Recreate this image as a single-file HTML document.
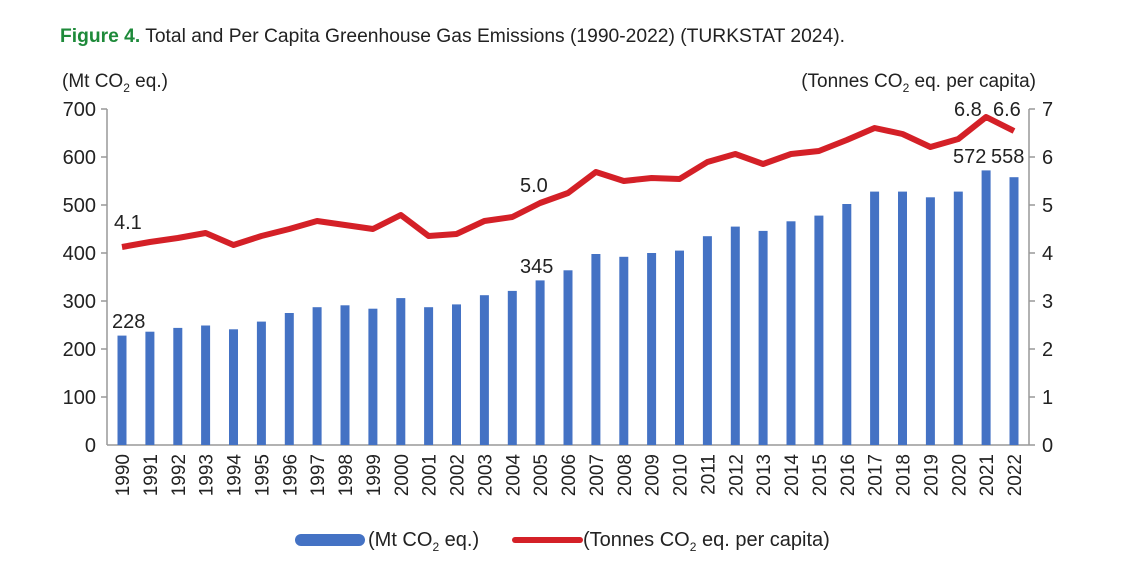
<!DOCTYPE html>
<html><head><meta charset="utf-8"><style>
body{margin:0;background:#fff;width:1128px;height:583px;overflow:hidden}
svg{display:block;font-family:"Liberation Sans",sans-serif}
</style></head><body>
<svg width="1128" height="583" viewBox="0 0 1128 583">
<text x="60" y="42" font-size="19" fill="#222" textLength="785" lengthAdjust="spacingAndGlyphs"><tspan fill="#1e8a3a" font-weight="bold">Figure 4.</tspan> Total and Per Capita Greenhouse Gas Emissions (1990-2022) (TURKSTAT 2024).</text>
<text x="62" y="87" font-size="19" fill="#222">(Mt CO<tspan font-size="12" dy="5">2</tspan><tspan dy="-5"> eq.)</tspan></text>
<text x="1036" y="87" font-size="19" fill="#222" text-anchor="end">(Tonnes CO<tspan font-size="12" dy="5">2</tspan><tspan dy="-5"> eq. per capita)</tspan></text>
<g stroke="#999" stroke-width="1.5">
<line x1="107" y1="109" x2="107" y2="445"/><line x1="1029" y1="109" x2="1029" y2="445"/>
<line x1="107" y1="445" x2="1029" y2="445"/>
<line x1="101" y1="109" x2="107" y2="109"/><line x1="101" y1="157" x2="107" y2="157"/><line x1="101" y1="205" x2="107" y2="205"/><line x1="101" y1="253" x2="107" y2="253"/><line x1="101" y1="301" x2="107" y2="301"/><line x1="101" y1="349" x2="107" y2="349"/><line x1="101" y1="397" x2="107" y2="397"/>
<line x1="1029" y1="109" x2="1035" y2="109"/><line x1="1029" y1="157" x2="1035" y2="157"/><line x1="1029" y1="205" x2="1035" y2="205"/><line x1="1029" y1="253" x2="1035" y2="253"/><line x1="1029" y1="301" x2="1035" y2="301"/><line x1="1029" y1="349" x2="1035" y2="349"/><line x1="1029" y1="397" x2="1035" y2="397"/><line x1="1029" y1="445" x2="1035" y2="445"/>
</g>
<g font-size="20" fill="#222" text-anchor="end">
<text x="96" y="116">700</text><text x="96" y="164">600</text><text x="96" y="212">500</text><text x="96" y="260">400</text><text x="96" y="308">300</text><text x="96" y="356">200</text><text x="96" y="404">100</text><text x="96" y="452">0</text>
</g>
<g font-size="20" fill="#222">
<text x="1042" y="116">7</text><text x="1042" y="164">6</text><text x="1042" y="212">5</text><text x="1042" y="260">4</text><text x="1042" y="308">3</text><text x="1042" y="356">2</text><text x="1042" y="404">1</text><text x="1042" y="452">0</text>
</g>
<g fill="#4472c4">
<rect x="117.5" y="335.6" width="9" height="109.4"/>
<rect x="145.4" y="331.7" width="9" height="113.3"/>
<rect x="173.3" y="327.9" width="9" height="117.1"/>
<rect x="201.1" y="325.5" width="9" height="119.5"/>
<rect x="229" y="329.3" width="9" height="115.7"/>
<rect x="256.9" y="321.6" width="9" height="123.4"/>
<rect x="284.8" y="313" width="9" height="132"/>
<rect x="312.6" y="307.2" width="9" height="137.8"/>
<rect x="340.5" y="305.3" width="9" height="139.7"/>
<rect x="368.4" y="308.7" width="9" height="136.3"/>
<rect x="396.3" y="298.1" width="9" height="146.9"/>
<rect x="424.1" y="307.2" width="9" height="137.8"/>
<rect x="452" y="304.4" width="9" height="140.6"/>
<rect x="479.9" y="295.2" width="9" height="149.8"/>
<rect x="507.8" y="290.9" width="9" height="154.1"/>
<rect x="535.6" y="280.4" width="9" height="164.6"/>
<rect x="563.5" y="270.3" width="9" height="174.7"/>
<rect x="591.4" y="254" width="9" height="191"/>
<rect x="619.3" y="256.8" width="9" height="188.2"/>
<rect x="647.1" y="253" width="9" height="192"/>
<rect x="675" y="250.6" width="9" height="194.4"/>
<rect x="702.9" y="236.2" width="9" height="208.8"/>
<rect x="730.8" y="226.6" width="9" height="218.4"/>
<rect x="758.6" y="230.9" width="9" height="214.1"/>
<rect x="786.5" y="221.3" width="9" height="223.7"/>
<rect x="814.4" y="215.6" width="9" height="229.4"/>
<rect x="842.3" y="204" width="9" height="241"/>
<rect x="870.1" y="191.6" width="9" height="253.4"/>
<rect x="898" y="191.6" width="9" height="253.4"/>
<rect x="925.9" y="197.3" width="9" height="247.7"/>
<rect x="953.8" y="191.6" width="9" height="253.4"/>
<rect x="981.6" y="170.4" width="9" height="274.6"/>
<rect x="1009.5" y="177.2" width="9" height="267.8"/>
</g>
<polyline fill="none" stroke="#d42027" stroke-width="6" stroke-linejoin="round" points="122,247 149.9,242 177.8,238 205.6,233 233.5,245 261.4,236 289.3,229 317.1,221 345,225 372.9,229 400.8,215 428.6,236 456.5,234 484.4,221 512.3,217 540.1,203 568,193 595.9,172 623.8,181 651.6,178 679.5,179 707.4,162 735.3,154 763.1,164 791,154 818.9,151 846.8,140 874.6,128 902.5,134 930.4,147 958.3,139 986.1,117 1014,131"/>
<g font-size="20" fill="#222">
<text x="114" y="229">4.1</text>
<text x="112" y="328">228</text>
<text x="520" y="192">5.0</text>
<text x="520" y="273">345</text>
<text x="954" y="116">6.8</text>
<text x="993" y="116">6.6</text>
<text x="953" y="163">572</text>
<text x="991" y="163">558</text>
</g>
<g font-size="19" fill="#222" text-anchor="end">
<text transform="translate(129,454) rotate(-90)">1990</text>
<text transform="translate(156.9,454) rotate(-90)">1991</text>
<text transform="translate(184.8,454) rotate(-90)">1992</text>
<text transform="translate(212.6,454) rotate(-90)">1993</text>
<text transform="translate(240.5,454) rotate(-90)">1994</text>
<text transform="translate(268.4,454) rotate(-90)">1995</text>
<text transform="translate(296.3,454) rotate(-90)">1996</text>
<text transform="translate(324.1,454) rotate(-90)">1997</text>
<text transform="translate(352,454) rotate(-90)">1998</text>
<text transform="translate(379.9,454) rotate(-90)">1999</text>
<text transform="translate(407.8,454) rotate(-90)">2000</text>
<text transform="translate(435.6,454) rotate(-90)">2001</text>
<text transform="translate(463.5,454) rotate(-90)">2002</text>
<text transform="translate(491.4,454) rotate(-90)">2003</text>
<text transform="translate(519.3,454) rotate(-90)">2004</text>
<text transform="translate(547.1,454) rotate(-90)">2005</text>
<text transform="translate(575,454) rotate(-90)">2006</text>
<text transform="translate(602.9,454) rotate(-90)">2007</text>
<text transform="translate(630.8,454) rotate(-90)">2008</text>
<text transform="translate(658.6,454) rotate(-90)">2009</text>
<text transform="translate(686.5,454) rotate(-90)">2010</text>
<text transform="translate(714.4,454) rotate(-90)">2011</text>
<text transform="translate(742.3,454) rotate(-90)">2012</text>
<text transform="translate(770.1,454) rotate(-90)">2013</text>
<text transform="translate(798,454) rotate(-90)">2014</text>
<text transform="translate(825.9,454) rotate(-90)">2015</text>
<text transform="translate(853.8,454) rotate(-90)">2016</text>
<text transform="translate(881.6,454) rotate(-90)">2017</text>
<text transform="translate(909.5,454) rotate(-90)">2018</text>
<text transform="translate(937.4,454) rotate(-90)">2019</text>
<text transform="translate(965.3,454) rotate(-90)">2020</text>
<text transform="translate(993.1,454) rotate(-90)">2021</text>
<text transform="translate(1021,454) rotate(-90)">2022</text>
</g>
<rect x="295" y="534" width="70" height="12" rx="6" fill="#4472c4"/>
<text x="368" y="546" font-size="20" fill="#222">(Mt CO<tspan font-size="12" dy="5">2</tspan><tspan dy="-5"> eq.)</tspan></text>
<line x1="515" y1="540" x2="580" y2="540" stroke="#d42027" stroke-width="6" stroke-linecap="round"/>
<text x="583" y="546" font-size="20" fill="#222">(Tonnes CO<tspan font-size="12" dy="5">2</tspan><tspan dy="-5"> eq. per capita)</tspan></text>
</svg>
</body></html>
